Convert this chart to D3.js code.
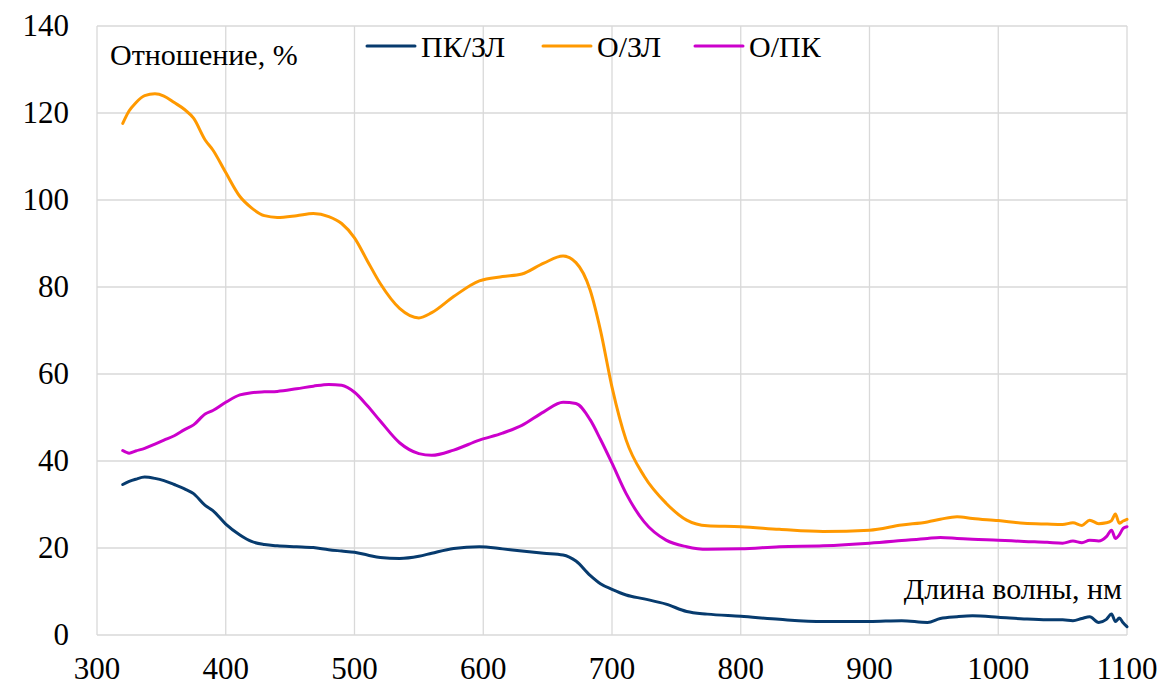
<html><head><meta charset="utf-8"><script src="https://cdn.jsdelivr.net/npm/d3@7"></script></head>
<body style="margin:0"><svg id="s" width="1166" height="693" style="display:block"></svg>
<script>
// Wavelength grid, nm
const wavelength = [320, 325, 330, 337, 345, 352, 360, 368, 375, 384, 390, 400, 411, 420, 430, 440, 455, 468, 480, 490,
  500, 510, 520, 535, 550, 560, 577, 597, 615, 630, 647, 662, 672, 683, 691, 700, 711, 725, 742, 758,
  774, 800, 830, 864, 900, 925, 945, 955, 968, 980, 1000, 1020, 1038, 1050, 1058, 1065, 1071, 1078, 1084, 1088,
  1091, 1094, 1097, 1100];

// Ratios, %
const pkZl = [34.6, 35.3, 35.8, 36.3, 36.0, 35.5, 34.6, 33.6, 32.5, 29.8, 28.6, 25.5, 23.0, 21.5, 20.8, 20.5, 20.3, 20.1, 19.6, 19.3,
  19.0, 18.4, 17.8, 17.6, 18.1, 18.8, 19.9, 20.3, 19.8, 19.3, 18.8, 18.4, 17.0, 13.7, 11.8, 10.5, 9.2, 8.3, 7.1, 5.4,
  4.8, 4.3, 3.6, 3.1, 3.1, 3.3, 2.9, 3.8, 4.2, 4.4, 4.1, 3.7, 3.5, 3.5, 3.3, 3.8, 4.2, 2.9, 3.6, 4.8,
  3.1, 3.9, 2.8, 1.9];

const oZl = [117.6, 120.5, 122.3, 124.0, 124.4, 123.9, 122.4, 120.8, 118.8, 113.8, 111.5, 106.3, 100.8, 98.2, 96.4, 96.0, 96.4, 96.9, 96.2, 94.6,
  91.3, 86.0, 80.8, 75.1, 72.9, 74.1, 77.8, 81.4, 82.4, 83.0, 85.5, 87.1, 85.6, 79.3, 70.1, 57.0, 44.8, 36.5, 30.3, 26.4,
  25.1, 24.9, 24.3, 23.8, 24.1, 25.3, 26.0, 26.6, 27.2, 26.8, 26.3, 25.7, 25.5, 25.4, 25.8, 25.2, 26.4, 25.6, 25.8, 26.3,
  27.8, 25.7, 26.2, 26.6];

const oPk = [42.4, 41.8, 42.3, 42.9, 43.9, 44.8, 45.8, 47.2, 48.3, 50.8, 51.6, 53.5, 55.2, 55.7, 55.9, 56.0, 56.6, 57.2, 57.6, 57.4,
  55.8, 52.7, 49.2, 44.2, 41.7, 41.3, 42.5, 44.8, 46.4, 48.2, 51.3, 53.5, 53.2, 49.5, 45.0, 39.5, 32.5, 26.0, 21.8, 20.3,
  19.7, 19.8, 20.3, 20.5, 21.1, 21.7, 22.2, 22.4, 22.2, 22.0, 21.8, 21.5, 21.3, 21.1, 21.6, 21.2, 21.8, 21.6, 22.6, 24.1,
  22.2, 23.0, 24.5, 24.9];

const seriesNames = ["ПК/ЗЛ", "О/ЗЛ", "О/ПК"];
const seriesColors = ["#073b6e", "#ff9900", "#cc00cc"];
const seriesValues = [pkZl, oZl, oPk];

const xTicks = [300, 400, 500, 600, 700, 800, 900, 1000, 1100];
const yTicks = [0, 20, 40, 60, 80, 100, 120, 140];

const yTitle = "Отношение, %";
const xTitle = "Длина волны, нм";

const FONT = "serif";

const svg = d3.select("#s").attr("font-family", "serif").style("font-family", "serif");
const plotLeft = 97, plotRight = 1127, plotTop = 26, plotBottom = 635;

const x = d3.scaleLinear().domain([300, 1100]).range([plotLeft, plotRight]);
const y = d3.scaleLinear().domain([0, 140]).range([plotBottom, plotTop]);

// Gridlines
const grid = svg.append("g");
grid.selectAll("line.h").data(yTicks).join("line")
  .attr("class", "h")
  .attr("x1", plotLeft).attr("x2", plotRight)
  .attr("y1", d => y(d)).attr("y2", d => y(d))
  .attr("stroke", "#d9d9d9").attr("stroke-width", 1.3);
grid.selectAll("line.v").data(xTicks).join("line")
  .attr("class", "v")
  .attr("y1", plotTop).attr("y2", plotBottom)
  .attr("x1", d => x(d)).attr("x2", d => x(d))
  .attr("stroke", "#d9d9d9").attr("stroke-width", 1.3);

// Tick labels placed from the scales
svg.append("g").selectAll("text").data(yTicks).join("text")
  .attr("x", plotLeft - 28).attr("y", d => y(d)).attr("dy", "0.32em")
  .attr("text-anchor", "end")
  .attr("font-family", FONT).style("font-size", "31px")
  .text(d => d);

svg.append("g").selectAll("text").data(xTicks).join("text")
  .attr("x", d => x(d)).attr("y", plotBottom + 22).attr("dy", "0.71em")
  .attr("text-anchor", "middle")
  .attr("font-family", FONT).style("font-size", "31px")
  .text(d => d);

const line = d3.line()
  .x((d, i) => x(wavelength[i]))
  .y(d => y(d))
  .curve(d3.curveMonotoneX);

svg.append("g").selectAll("path").data(seriesValues).join("path")
  .attr("d", d => line(d))
  .attr("fill", "none")
  .attr("stroke", (d, i) => seriesColors[i])
  .attr("stroke-width", 3)
  .attr("stroke-linejoin", "round")
  .attr("stroke-linecap", "round");

// Legend
const legendX = [367, 543, 695];
const legend = svg.append("g");
seriesNames.forEach((name, i) => {
  legend.append("line")
    .attr("x1", legendX[i]).attr("x2", legendX[i] + 48)
    .attr("y1", 46).attr("y2", 46)
    .attr("stroke", seriesColors[i]).attr("stroke-width", 3).attr("stroke-linecap", "round");
  legend.append("text")
    .attr("x", legendX[i] + 54).attr("y", 57)
    .attr("font-family", FONT).style("font-size", "30px")
    .text(name);
});

svg.append("text").attr("x", 110).attr("y", 65)
  .attr("font-family", FONT).style("font-size", "30px")
  .text(yTitle);
svg.append("text").attr("x", 1122).attr("y", 599)
  .attr("text-anchor", "end")
  .attr("font-family", FONT).style("font-size", "30px")
  .text(xTitle);
</script></body></html>
